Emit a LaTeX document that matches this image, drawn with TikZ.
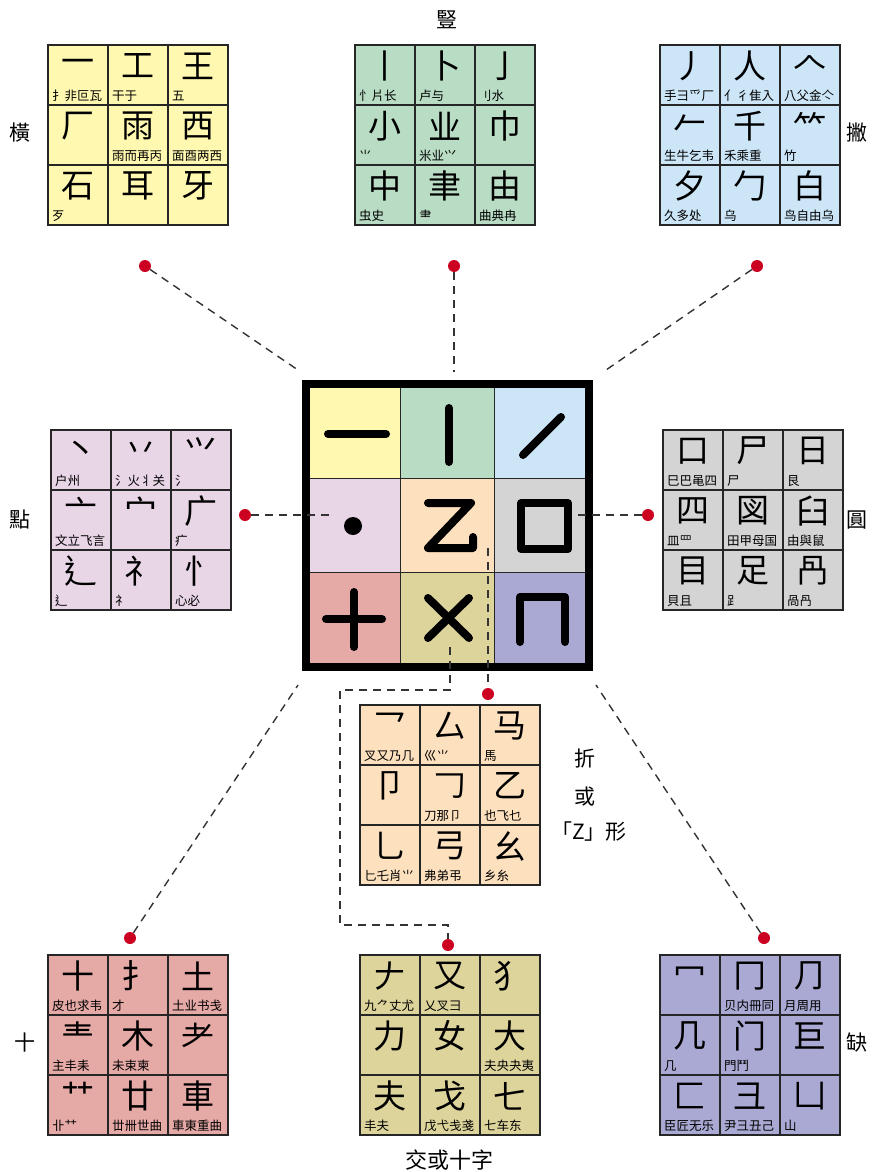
\documentclass[tikz,border=0pt]{standalone}
\usepackage{fontspec}
\setmainfont{Noto Sans CJK TC}

\definecolor{hengyellow}{HTML}{FFF8B0}
\definecolor{shugreen}{HTML}{B8DCC4}
\definecolor{pieblue}{HTML}{CCE6F8}
\definecolor{dianpink}{HTML}{E8D5E6}
\definecolor{zheorange}{HTML}{FDE0BE}
\definecolor{yuangray}{HTML}{D4D4D4}
\definecolor{shired}{HTML}{E5A9A6}
\definecolor{jiaoolive}{HTML}{DDD49C}
\definecolor{quepurple}{HTML}{A9A9D3}
\definecolor{dotred}{HTML}{CC0020}

\newcommand*{\cellsize}{60}
\newcommand*{\midsize}{94.33}

% one 3x3 table: name, left, top, colour, glyph/examples list
\newcommand*{\strokegrid}[5]{%
	\foreach \glyph/\examples [count=\i from 0] in {#5} {
		\pgfmathtruncatemacro{\cellcol}{mod(\i,3)}
		\pgfmathtruncatemacro{\cellrow}{div(\i,3)}
		\fill[#4] ({#2+\cellcol*\cellsize},{#3+\cellrow*\cellsize}) rectangle +(\cellsize,\cellsize);
		\node[bigglyph] (#1-\i) at ({#2+(\cellcol+0.5)*\cellsize},{#3+\cellrow*\cellsize+21}) {\glyph};
		\node[subglyph] (#1-\i-sub) at ({#2+\cellcol*\cellsize+4},{#3+\cellrow*\cellsize+55}) {\examples};
	}
	\foreach \k in {0,...,3} {
		\draw[gridline] ({#2+\k*\cellsize},#3) -- ++(0,3*\cellsize);
		\draw[gridline] (#2,{#3+\k*\cellsize}) -- ++(3*\cellsize,0);
	}
}

\begin{document}
\begin{tikzpicture}
[
	x=1pt, y=-1pt,
	bigglyph/.style={font=\fontsize{33}{33}\selectfont, inner sep=0pt},
	subglyph/.style={anchor=base west, font=\fontsize{12.5}{12.5}\selectfont, inner sep=0pt},
	gridline/.style={draw=black!85, line width=1.6pt, line cap=rect},
	link/.style={black!80, line width=1.4pt, dash pattern=on 8pt off 6pt},
	reddot/.style={circle, fill=dotred, inner sep=0pt, minimum size=12pt},
	strokeline/.style={line width=8pt, line cap=round, line join=round},
	typename/.style={font=\fontsize{21}{21}\selectfont, inner sep=0pt}
]

	\useasboundingbox (0,0) rectangle (874,1172);

	% centre table
	\foreach \colour [count=\i from 0] in {hengyellow,shugreen,pieblue,dianpink,zheorange,yuangray,shired,jiaoolive,quepurple} {
		\pgfmathtruncatemacro{\cellcol}{mod(\i,3)}
		\pgfmathtruncatemacro{\cellrow}{div(\i,3)}
		\fill[\colour] ({306+\cellcol*\midsize},{384+\cellrow*\midsize}) rectangle +(\midsize,\midsize);
	}
	\foreach \k in {1,2} {
		\draw[gridline] ({306+\k*\midsize},384) -- ++(0,3*\midsize);
		\draw[gridline] (306,{384+\k*\midsize}) -- ++(3*\midsize,0);
	}
	\draw[line width=8pt] (306,384) rectangle ++(3*\midsize,3*\midsize);

	% centre strokes
	\draw[strokeline] (328,434) -- (386,434);
	\draw[strokeline] (449,408) -- (449,462);
	\draw[strokeline] (523,455) -- (561,417);
	\fill (353,526) circle (9);
	\draw[strokeline] (428,503) -- (471,503) -- (428,548) -- (473,548) -- (473,537);
	\draw[strokeline] (521,503) rectangle (568,549);
	\draw[strokeline] (326,619) -- (382,619);
	\draw[strokeline] (354,592) -- (354,647);
	\draw[strokeline] (428,598) -- (469,638);
	\draw[strokeline] (469,598) -- (428,638);
	\draw[strokeline] (520,642) -- (520,597) -- (565,597) -- (565,642);

	% outer tables
	\strokegrid{heng}{48}{45}{hengyellow}{一/扌非叵瓦, 工/干于, 王/五, 厂/{}, 雨/雨而再丙, 西/面酉两西, 石/歹, 耳/{}, 牙/{}}
	\strokegrid{shu}{355}{45}{shugreen}{丨/忄片长, 卜/卢与, 亅/刂水, 小/⺌, 业/米业⺍, 巾/{}, 中/虫史, 聿/⺻, 由/曲典冉}
	\strokegrid{pie}{660}{45}{pieblue}{丿/手⺕爫厂, 人/亻彳隹入, 𠆢/八父金亽, 𠂉/生牛乞韦, 千/禾乘重, ⺮/竹, 夕/久多处, 勹/乌, 白/鸟自由乌}
	\strokegrid{dian}{51}{430}{dianpink}{丶/户州, 丷/氵火丬关, ⺍/氵, 亠/文立飞言, 宀/{}, 广/疒, 辶/辶, 礻/礻, 忄/心必}
	\strokegrid{yuan}{663}{430}{yuangray}{口/巳巴黾四, 尸/尸, 日/艮, 四/皿罒, 図/田甲母国, 臼/由與鼠, 目/貝且, 足/⻊, 冎/咼冎}
	\strokegrid{zhe}{360}{705}{zheorange}{乛/叉又乃几, 厶/巛⺌, 马/馬, 卩/{}, 𠃌/刀那卩, 乙/也飞乜, 乚/匕乇肖⺌, 弓/弗弟弔, 幺/乡糸}
	\strokegrid{shi}{48}{955}{shired}{十/皮也求韦, 扌/才, 土/土业书戋, 龶/主丰耒, 木/未束柬, 耂/{}, 艹/卝艹, 廿/丗卌世曲, 車/車東重曲}
	\strokegrid{jiao}{360}{955}{jiaoolive}{𠂇/九⺈丈尤, 又/乂叉⺕, 犭/{}, 力/{}, 女/{}, 大/夫央夬夷, 夫/丰夫, 戈/戊弋戋戔, 七/七车东}
	\strokegrid{que}{660}{955}{quepurple}{冖/{}, 冂/贝内冊同, ⺆/月周用, 几/几, 门/門鬥, 巨/{}, 匚/臣匠无乐, 彐/尹彐丑己, 凵/山}

	% stroke type names
	\node[typename] (heng-name) at (20,133) {橫};
	\node[typename] (shu-name) at (447,20) {豎};
	\node[typename] (pie-name) at (857,133) {撇};
	\node[typename] (dian-name) at (20,520) {點};
	\node[typename] (yuan-name) at (857,520) {圓};
	\node[typename] (zhe-name1) at (585,758) {折};
	\node[typename] (zhe-name2) at (585,797) {或};
	\node[typename] (zhe-name3) at (589,832) {「Z」形};
	\node[typename] (shi-name) at (25,1043) {十};
	\node[typename] (que-name) at (857,1043) {缺};
	\node[typename, font=\fontsize{22}{22}\selectfont] (jiao-name) at (449,1160) {交或十字};

	% dots
	\node[reddot] (heng-dot) at (145,266) {};
	\node[reddot] (shu-dot) at (454,266) {};
	\node[reddot] (pie-dot) at (757,266) {};
	\node[reddot] (dian-dot) at (245,515) {};
	\node[reddot] (yuan-dot) at (648,515) {};
	\node[reddot] (zhe-dot) at (488,694) {};
	\node[reddot] (shi-dot) at (130,938) {};
	\node[reddot] (jiao-dot) at (448,945) {};
	\node[reddot] (que-dot) at (764,938) {};

	% connectors
	\coordinate (heng-end) at (298,370);
	\coordinate (shu-end) at (454,372);
	\coordinate (pie-end) at (606,370);
	\coordinate (dian-end) at (330,515);
	\coordinate (yuan-end) at (578,515);
	\coordinate (zhe-end) at (488,548);
	\coordinate (jiao-end) at (450,647);
	\coordinate (jiao-turn) at (340,690);
	\coordinate (jiao-low) at (340,925);
	\coordinate (shi-end) at (298,685);
	\coordinate (que-end) at (596,685);

	\draw[link] (heng-dot) -- (heng-end);
	\draw[link] (shu-dot) -- (shu-end);
	\draw[link] (pie-dot) -- (pie-end);
	\draw[link] (dian-dot) -- (dian-end);
	\draw[link] (yuan-dot) -- (yuan-end);
	\draw[link] (zhe-end) -- (zhe-dot);
	\draw[link] (jiao-end) |- (jiao-turn) -- (jiao-low) -| (jiao-dot);
	\draw[link] (shi-dot) -- (shi-end);
	\draw[link] (que-dot) -- (que-end);

\end{tikzpicture}
\end{document}
